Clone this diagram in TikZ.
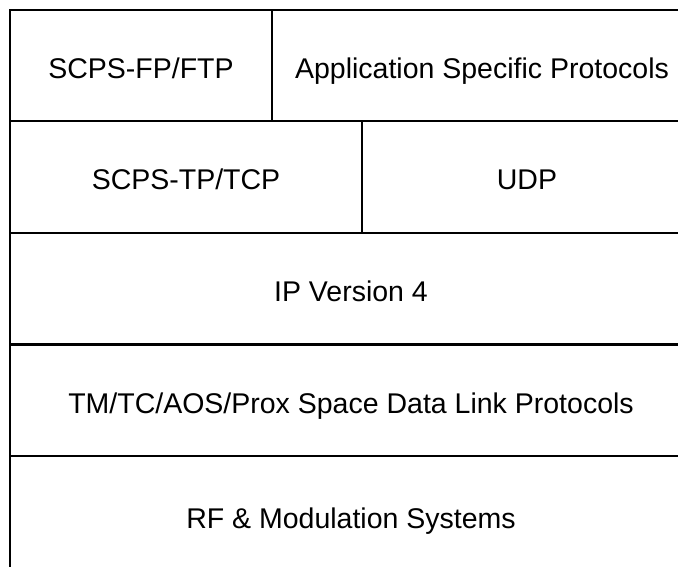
\documentclass[tikz,border=0pt]{standalone}
\usepackage{fontspec}
\setmainfont{Liberation Sans}
\begin{document}
\begin{tikzpicture}[x=1pt,y=-1pt,
  cell/.style={draw=black,line width=2.8pt,rectangle,inner sep=0pt,anchor=center,
    text height=26pt,text depth=0pt,
    font=\fontsize{28.5}{32}\selectfont}]
\useasboundingbox (0,0) rectangle (678,567);
\clip (0,0) rectangle (678,567);
\node[cell,minimum width=262pt,minimum height=111pt] (fp) at (141,65.5) {SCPS-FP/FTP};
\node[cell,minimum width=420pt,minimum height=111pt] (app) at (482,65.5) {Application Specific Protocols};
\node[cell,minimum width=352pt,minimum height=112pt] (tcp) at (186,177) {SCPS-TP/TCP};
\node[cell,minimum width=330pt,minimum height=112pt] (udp) at (527,177) {UDP};
\node[cell,minimum width=682pt,minimum height=111.5pt] (ip) at (351,288.75) {IP Version 4};
\node[cell,minimum width=682pt,minimum height=111.5pt] (dl) at (351,400.25) {TM/TC/AOS/Prox Space Data Link Protocols};
\node[cell,minimum width=682pt,minimum height=118pt] (rf) at (351,515) {RF \& Modulation Systems};
\end{tikzpicture}
\end{document}
